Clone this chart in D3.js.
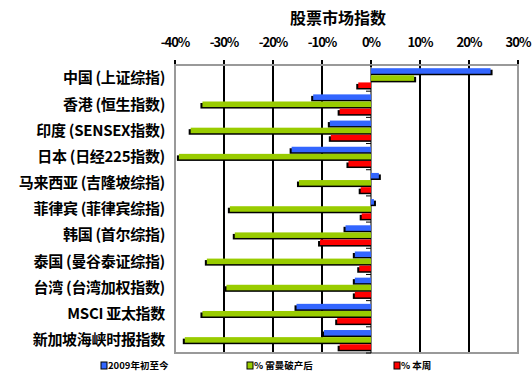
<!DOCTYPE html>
<html>
<head>
<meta charset="utf-8">
<script src="https://cdn.jsdelivr.net/npm/d3@7"></script>
<style>
  body { margin: 0; background: #fff; }
  text { font-family: "Noto Sans CJK SC", "Liberation Sans", sans-serif; font-weight: bold; fill: #000; }
</style>
</head>
<body>
<div id="chart"></div>
<script>
// stock market index chart - horizontal grouped bars
const width = 532, height = 378,
    margin = ({ top: 65, right: 14, bottom: 25, left: 175 });

const categories = ["中国 (上证综指)", "香港 (恒生指数)", "印度 (SENSEX指数)", "日本 (日经225指数)",
    "马来西亚 (吉隆坡综指)", "菲律宾 (菲律宾综指)", "韩国 (首尔综指)", "泰国 (曼谷泰证综指)",
    "台湾 (台湾加权指数)", "MSCI 亚太指数", "新加坡海峡时报指数"];
const seriesNames = ["2009年初至今", "% 雷曼破产后", "% 本周"];
const ytd = [24.4, -11.8, -8.4, -16.2, 1.6, 0.6, -5.2, -3.3, -3.3, -15.2, -9.6];
const sinceLehman = [8.8, -34.4, -36.8, -39.2, -14.7, -28.8, -27.8, -33.5, -29.5, -34.4, -38.0];
const thisWeek = [-2.6, -6.4, -8.2, -4.6, -2.1, -1.9, -10.4, -2.4, -3.3, -6.9, -6.4];
const ticks = [-40, -30, -20, -10, 0, 10, 20, 30];
const colors = ["#3366ff", "#99cc00", "#ff0000"];

const series = [ytd, sinceLehman, thisWeek];

const svg = d3.select("#chart").append("svg")
    .attr("width", width).attr("height", height);

let x = d3.scaleLinear().domain([-40, 30]).range([margin.left, width - margin.right]);
let y = d3.scaleBand().domain(categories).range([margin.top, height - margin.bottom]);
let ySub = d3.scaleBand().domain(d3.range(3)).range([0, y.bandwidth()]).paddingInner(0.22).paddingOuter(0.45);

// title
svg.append("text")
    .attr("x", 338).attr("y", 24)
    .attr("text-anchor", "middle")
    .style("font-size", "16px")
    .text("股票市场指数");

// top axis labels
svg.append("g").selectAll("text")
    .data(ticks).join("text")
    .attr("x", d => x(d)).attr("y", 47)
    .attr("text-anchor", "middle")
    .style("font-size", "13px")
    .style("letter-spacing", "-1px")
    .text(d => d + "%");

// gridlines (with the little tick above the frame)
svg.append("g").selectAll("line")
    .data(ticks.filter(d => d != 0)).join("line")
    .attr("x1", d => x(d)).attr("x2", d => x(d))
    .attr("y1", margin.top - 5).attr("y2", height - margin.bottom)
    .attr("stroke", "#000").attr("stroke-width", 2);

svg.append("line")
    .attr("x1", x(0)).attr("x2", x(0))
    .attr("y1", margin.top - 5).attr("y2", margin.top + 2)
    .attr("stroke", "#000").attr("stroke-width", 2);

// frame
svg.append("rect")
    .attr("x", margin.left).attr("y", margin.top)
    .attr("width", width - margin.right - margin.left)
    .attr("height", height - margin.bottom - margin.top)
    .attr("fill", "none").attr("stroke", "#999").attr("stroke-width", 2);

// zero axis with small category ticks
const zeroAxis = svg.append("g");
zeroAxis.append("line")
    .attr("x1", x(0)).attr("x2", x(0))
    .attr("y1", margin.top).attr("y2", height - margin.bottom)
    .attr("stroke", "#000").attr("stroke-width", 1);
zeroAxis.selectAll(".tk")
    .data(categories).join("line")
    .attr("class", "tk")
    .attr("x1", x(0) - 5).attr("x2", x(0))
    .attr("y1", d => y(d) + y.bandwidth())
    .attr("y2", d => y(d) + y.bandwidth())
    .attr("stroke", "#000").attr("stroke-width", 1);

// bars with dark shadow
series.forEach((vals, s) => {
    const g = svg.append("g");
    const data = vals.map((v, i) => ({ cat: categories[i], v: v }));
    g.selectAll(".shadow").data(data).join("rect")
        .attr("class", "shadow")
        .attr("x", d => d.v < 0 ? x(d.v) - 2 : x(0))
        .attr("y", d => y(d.cat) + ySub(s) + 1.5)
        .attr("width", d => Math.abs(x(d.v) - x(0)) + 2)
        .attr("height", ySub.bandwidth())
        .attr("fill", "#000");
    g.selectAll(".bar").data(data).join("rect")
        .attr("class", "bar")
        .attr("x", d => Math.min(x(d.v), x(0)))
        .attr("y", d => y(d.cat) + ySub(s))
        .attr("width", d => Math.abs(x(d.v) - x(0)))
        .attr("height", ySub.bandwidth())
        .attr("fill", colors[s]);
});

// category labels
svg.append("g").selectAll("text")
    .data(categories).join("text")
    .attr("x", 165)
    .attr("y", d => y(d) + y.bandwidth() / 2)
    .attr("dy", "0.35em")
    .attr("text-anchor", "end")
    .style("font-size", "15px")
    .style("letter-spacing", "-0.3px")
    .text(d => d);

// legend
const legendX = [101, 247, 394];
const legend = svg.append("g").selectAll("g")
    .data(seriesNames).join("g")
    .attr("transform", (d, i) => `translate(${legendX[i]},366)`);
legend.append("rect")
    .attr("x", 0).attr("y", -4).attr("width", 6).attr("height", 7)
    .attr("fill", (d, i) => colors[i]).attr("stroke", "#000").attr("stroke-width", 1);
legend.append("text")
    .attr("x", 7).attr("y", 0).attr("dy", "0.35em")
    .style("font-size", "9.5px")
    .text(d => d);
</script>
</body>
</html>
